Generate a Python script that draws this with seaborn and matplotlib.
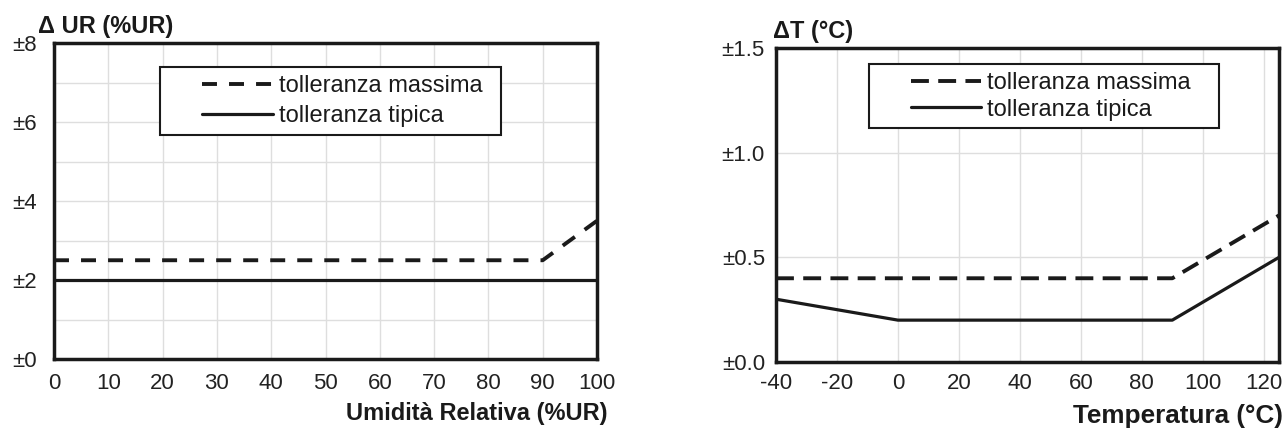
import pandas as pd
import matplotlib.pyplot as plt
from matplotlib.ticker import MultipleLocator
from matplotlib.path import Path
import seaborn as sns

sns.set_style("whitegrid")
plt.rcParams['font.family'] = ['Liberation Sans', 'DejaVu Sans']
plt.rcParams['axes.unicode_minus'] = False

serie = ['tolleranza massima', 'tolleranza tipica']

# umidita relativa
ur_x_max = [0, 90, 100]
ur_max = [2.5, 2.5, 3.5]
ur_x_tip = [0, 100]
ur_tip = [2.0, 2.0]
ur_xticks = [0, 10, 20, 30, 40, 50, 60, 70, 80, 90, 100]
ur_yticks = [0, 2, 4, 6, 8]
ur_ylabels = ['±0', '±2', '±4', '±6', '±8']

# temperatura
t_x_max = [-40, 90, 125]
t_max = [0.4, 0.4, 0.7]
t_x_tip = [-40, 0, 90, 125]
t_tip = [0.3, 0.2, 0.2, 0.5]
t_xticks = [-40, -20, 0, 20, 40, 60, 80, 100, 120]
t_yticks = [0.0, 0.5, 1.0, 1.5]
t_ylabels = ['±0.0', '±0.5', '±1.0', '±1.5']

df_ur = pd.concat([
    pd.DataFrame({'x': ur_x_max, 'y': ur_max, 'serie': serie[0]}),
    pd.DataFrame({'x': ur_x_tip, 'y': ur_tip, 'serie': serie[1]}),
])
df_t = pd.concat([
    pd.DataFrame({'x': t_x_max, 'y': t_max, 'serie': serie[0]}),
    pd.DataFrame({'x': t_x_tip, 'y': t_tip, 'serie': serie[1]}),
])

NERO = '#1a1a1a'
GRIGIO = '#dedede'


def riquadro_con(sx, dx):
    # cornice della legenda allargata a sinistra (sx) e a destra (dx)
    def riquadro(x0, y0, width, height, mutation_size):
        x0 = x0 - sx * mutation_size
        width = width + (sx + dx) * mutation_size
        return Path([(x0, y0), (x0 + width, y0), (x0 + width, y0 + height),
                     (x0, y0 + height), (x0, y0)], closed=True)
    return riquadro


fig = plt.figure(figsize=(12.88, 4.3), dpi=100)
ax1 = fig.add_axes([54 / 1288, 71 / 430, 543 / 1288, 316 / 430])
ax2 = fig.add_axes([776 / 1288, 68 / 430, 503 / 1288, 314 / 430])


def disegna(ax, df, trattini):
    sns.lineplot(data=df, x='x', y='y', style='serie', color=NERO, ax=ax,
                 dashes={serie[0]: trattini, serie[1]: ''}, sort=False,
                 legend=False)
    linee = ax.get_lines()
    linee[0].set_linewidth(2.8)
    linee[1].set_linewidth(2.3)
    for s in ax.spines.values():
        s.set_color(NERO)
        s.set_linewidth(2.5)
    ax.grid(True, which='both', color=GRIGIO, lw=1)
    ax.set_axisbelow(True)
    return linee


def legenda(ax, linee, x0, y0, dx, spazio):
    leg = ax.legend(linee, serie, loc='upper left', bbox_to_anchor=(x0, y0),
                    borderaxespad=0, fontsize=17, frameon=True, fancybox=False,
                    handlelength=3.0, handletextpad=0.25, borderpad=0.33,
                    labelspacing=spazio)
    leg.get_frame().set_edgecolor(NERO)
    leg.get_frame().set_linewidth(1.5)
    leg.get_frame().set_alpha(1)
    leg.legendPatch.set_boxstyle(riquadro_con(1.45, dx))
    for t in leg.get_texts():
        t.set_color(NERO)


# pannello umidita
linee = disegna(ax1, df_ur, (3.85, 3.1))
ax1.set_xlim(0, 100)
ax1.set_ylim(0, 8)
ax1.set_xticks(ur_xticks)
ax1.set_yticks(ur_yticks, ur_ylabels)
ax1.yaxis.set_minor_locator(MultipleLocator(1))
ax1.tick_params(which='major', direction='out', length=4, width=1.5,
                color=NERO, labelsize=16, labelcolor='#222222', pad=6)
ax1.tick_params(axis='y', pad=8)
ax1.tick_params(which='minor', length=0)
ax1.set_xlabel('Umidità Relativa (%UR)', fontsize=17, fontweight='bold',
               ha='right', va='baseline', color=NERO)
ax1.xaxis.set_label_coords(1 + 11 / 543, -61 / 316)
ax1.set_ylabel('Δ UR (%UR)', fontsize=17, fontweight='bold', rotation=0,
               ha='left', va='baseline', color=NERO)
ax1.yaxis.set_label_coords(-16 / 543, 1 + 10 / 316)
legenda(ax1, linee, 0.258, 0.924, 0.45, 0.36)

# pannello temperatura
linee = disegna(ax2, df_t, (4.6, 2.4))
ax2.set_xlim(-40, 125)
ax2.set_ylim(0, 1.5)
ax2.set_xticks(t_xticks)
ax2.set_yticks(t_yticks, t_ylabels)
ax2.xaxis.set_minor_locator(MultipleLocator(10))
ax2.yaxis.set_minor_locator(MultipleLocator(0.1))
ax2.grid(False, which='minor')
ax2.tick_params(which='major', direction='inout', length=8, width=1.5,
                color=NERO, labelsize=16, labelcolor='#222222', pad=4)
ax2.tick_params(which='minor', direction='in', length=4, width=1.5,
                color=NERO)
ax2.set_xlabel('Temperatura (°C)', fontsize=18.8, fontweight='bold',
               ha='right', va='baseline', color=NERO)
ax2.xaxis.set_label_coords(1 + 4 / 503, -61 / 314)
ax2.set_ylabel('ΔT (°C)', fontsize=17, fontweight='bold', rotation=0,
               ha='left', va='baseline', color=NERO)
ax2.yaxis.set_label_coords(-3 / 503, 1 + 10 / 314)
legenda(ax2, linee, 0.252, 0.949, 0.87, 0.2)

fig.savefig('out.png', dpi=100)
